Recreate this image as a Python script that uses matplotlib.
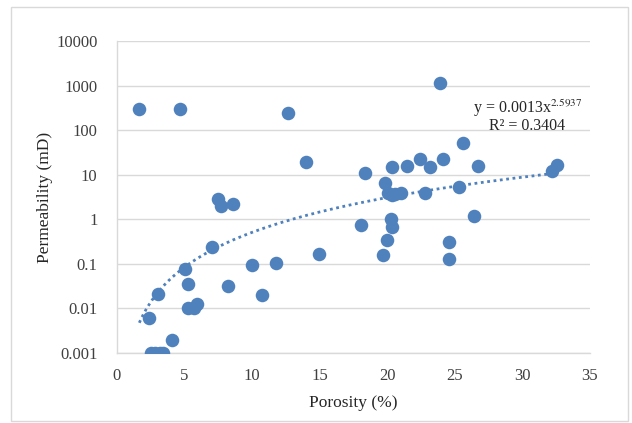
import matplotlib
matplotlib.use("Agg")
import matplotlib.pyplot as plt
import numpy as np
from matplotlib.patches import Rectangle

plt.rcParams['font.family'] = ['Liberation Serif', 'DejaVu Serif']
plt.rcParams['mathtext.fontset'] = 'stix'

porosity = [1.65, 4.66, 12.68, 13.99, 7.45, 7.67, 8.61,
            23.9, 25.59, 18.38, 20.33, 21.49, 22.45, 23.17, 24.1, 26.7,
            32.17, 32.59, 19.81, 20.08, 20.33, 20.58, 21.0, 22.8, 25.3,
            20.26, 20.33, 18.04, 26.43, 20.0, 24.55, 19.66, 24.55,
            7.06, 5.03, 5.23, 3.06, 2.39, 5.23, 5.72, 5.92, 8.24, 9.99,
            11.77, 10.71, 14.98, 4.1, 2.5, 2.8, 3.2, 3.4]
permeability = [295, 295, 240, 19.5, 2.8, 2.0, 2.2,
                1170, 52, 11, 15, 15.8, 22.8, 15, 22.8, 15.8,
                12, 16.5, 6.5, 3.9, 3.5, 3.6, 3.9, 3.9, 5.2,
                1.02, 0.68, 0.73, 1.17, 0.34, 0.31, 0.155, 0.128,
                0.234, 0.076, 0.036, 0.021, 0.006, 0.01, 0.01, 0.0123, 0.032, 0.094,
                0.102, 0.020, 0.17, 0.002, 0.001, 0.001, 0.001, 0.001]

fit_a = 0.0013
fit_b = 2.5937
r2 = 0.3404
fit_range = [1.65, 32.5]

color = '#4f81bd'
grid_color = '#d9d9d9'

fig = plt.figure(figsize=(6.32, 4.23), dpi=100)
fig.patches.append(Rectangle((11/632, 1-421/423), 617/632, 414/423,
                             transform=fig.transFigure, fill=False,
                             edgecolor='#d9d9d9', linewidth=1.0))
ax = fig.add_axes([117/632, 1-353/423, (590-117)/632, (353-41)/423])

ax.scatter(porosity, permeability, s=95, color=color, zorder=3, linewidths=0)

xf = np.linspace(fit_range[0], fit_range[1], 200)
ax.plot(xf, fit_a * xf ** fit_b, linestyle=(0, (1, 1.3)), color=color,
        linewidth=2.0, zorder=2)

ax.set_yscale('log')
ax.set_xlim(0, 35)
ax.set_ylim(0.001, 10000)
ax.set_xticks([0, 5, 10, 15, 20, 25, 30, 35])
yt = [0.001, 0.01, 0.1, 1, 10, 100, 1000, 10000]
ax.set_yticks(yt)
ax.set_yticklabels(['0.001', '0.01', '0.1', '1', '10', '100', '1000', '10000'])
ax.yaxis.set_minor_locator(matplotlib.ticker.NullLocator())
ax.tick_params(axis='both', length=0, labelsize=12, colors='#404040')
ax.tick_params(axis='y', pad=14)
ax.tick_params(axis='x', pad=11)
ax.grid(axis='y', color=grid_color, linewidth=1.0, zorder=0)
ax.set_axisbelow(True)
for s in ['top', 'right']:
    ax.spines[s].set_visible(False)
for s in ['left', 'bottom']:
    ax.spines[s].set_color(grid_color)
    ax.spines[s].set_linewidth(1.0)

ax.set_xlabel('Porosity (%)', fontsize=12.5, color='#262626', labelpad=8)
ax.set_ylabel('Permeability (mD)', fontsize=12.5, color='#262626', labelpad=2)

ax.text(0.869, 0.769, 'y = 0.0013x$^{2.5937}$', transform=ax.transAxes,
        ha='center', va='baseline', fontsize=11.5, color='#262626')
ax.text(0.866, 0.716, 'R² = 0.3404', transform=ax.transAxes,
        ha='center', va='baseline', fontsize=11.5, color='#262626')

fig.savefig('out.png', dpi=100)
